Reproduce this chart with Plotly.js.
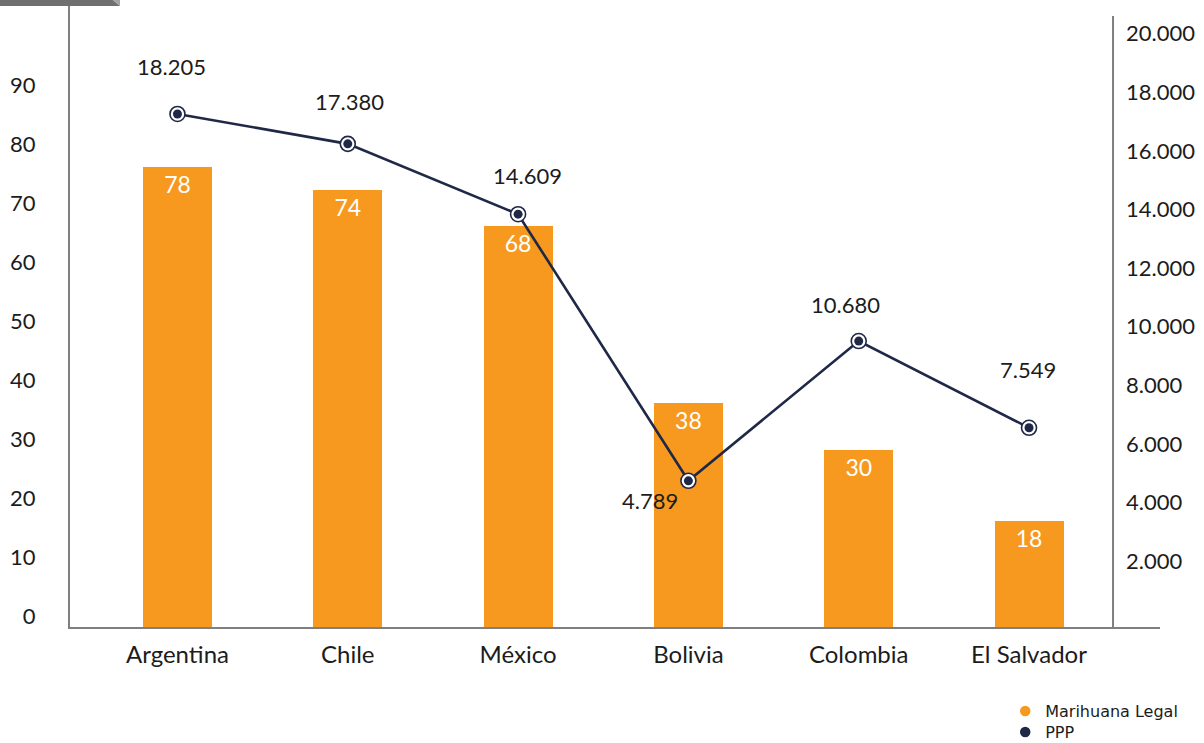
<!DOCTYPE html>
<html>
<head>
<meta charset="utf-8">
<script src="https://cdn.plot.ly/plotly-3.0.1.min.js"></script>
<style>
  html, body { margin: 0; padding: 0; background: #ffffff; }
  #chart { width: 1204px; height: 743px; }
</style>
</head>
<body>
<div id="chart"></div>
<script>
// ---- data ----
const countries = ['Argentina', 'Chile', 'México', 'Bolivia', 'Colombia', 'El Salvador'];
const marihuanaLegal = [78, 74, 68, 38, 30, 18];
// PPP as plotted (marker heights read against the right axis)
const ppp = [17260, 16240, 13840, 4740, 9510, 6550];
// PPP data labels as printed in the reference
const pppLabels = ['18.205', '17.380', '14.609', '4.789', '10.680', '7.549'];
const leftTicks = [0, 10, 20, 30, 40, 50, 60, 70, 80, 90];
const rightTicks = [2000, 4000, 6000, 8000, 10000, 12000, 14000, 16000, 18000, 20000];

// ---- styling ----
const FONT = 'Lato, "Open Sans", "DejaVu Sans", sans-serif';
const LEGEND_FONT = '"DejaVu Sans", Lato, sans-serif';
const ORANGE = '#F7991F';
const NAVY = '#1F2847';
const AXIS = '#7f7f7f';
const TEXT = '#1c1c1c';
// label placement (pixel offsets from each marker)
const labelShift = [[-6, 47], [2, 42], [9, 39], [-38, -20], [-13, 37], [-1, 58]];

const barTrace = {
  type: 'bar',
  x: countries,
  y: marihuanaLegal,
  width: 0.405,
  marker: { color: ORANGE },
  text: marihuanaLegal.map(String),
  textposition: 'inside',
  insidetextanchor: 'end',
  textangle: 0,
  constraintext: 'none',
  textfont: { family: FONT, size: 23, color: '#ffffff' },
  showlegend: false,
  hoverinfo: 'skip'
};

const lineTrace = {
  type: 'scatter',
  mode: 'lines+markers',
  x: countries,
  y: ppp,
  yaxis: 'y2',
  line: { color: NAVY, width: 2.6 },
  marker: { color: '#ffffff', size: 15, line: { color: NAVY, width: 1.6 } },
  showlegend: false,
  cliponaxis: false,
  hoverinfo: 'skip'
};

const dotTrace = {
  type: 'scatter',
  mode: 'markers',
  x: countries,
  y: ppp,
  yaxis: 'y2',
  marker: { color: NAVY, size: 9 },
  showlegend: false,
  cliponaxis: false,
  hoverinfo: 'skip'
};

// legend entries (round symbols as in the reference legend)
const legendBar = {
  type: 'scatter', mode: 'markers', x: [null], y: [null],
  name: 'Marihuana Legal',
  legend: 'legend',
  marker: { color: ORANGE, size: 12, line: { color: '#ffffff', width: 1.5 } }
};
const legendLine = {
  type: 'scatter', mode: 'markers', x: [null], y: [null], yaxis: 'y2',
  name: 'PPP',
  legend: 'legend2',
  marker: { color: NAVY, size: 12, line: { color: '#ffffff', width: 1.5 } }
};

const annotations = countries.map((c, i) => ({
  x: c,
  y: ppp[i],
  xref: 'x',
  yref: 'y2',
  text: pppLabels[i],
  showarrow: false,
  xshift: labelShift[i][0],
  yshift: labelShift[i][1],
  font: { family: FONT, size: 22, color: TEXT }
}));

const legendStyle = (y) => ({
  x: 0.858,
  y: y,
  xanchor: 'left',
  yanchor: 'middle',
  orientation: 'v',
  font: { family: LEGEND_FONT, size: 16, color: TEXT },
  bgcolor: 'rgba(0,0,0,0)',
  borderwidth: 0
});

const layout = {
  width: 1204,
  height: 743,
  margin: { l: 70, r: 44, t: 0, b: 116, autoexpand: false },
  paper_bgcolor: '#ffffff',
  plot_bgcolor: '#ffffff',
  separators: ',.',
  font: { family: FONT, size: 22, color: TEXT },
  bargap: 0,
  xaxis: {
    type: 'category',
    range: [-0.631, 5.769],
    showline: true,
    linecolor: AXIS,
    linewidth: 2,
    ticks: '',
    showgrid: false,
    zeroline: false,
    automargin: false,
    ticklabelstandoff: 5,
    tickfont: { family: FONT, size: 24, color: TEXT }
  },
  yaxis: {
    range: [0, 106.27],
    tickmode: 'array',
    tickvals: leftTicks,
    showline: true,
    linecolor: AXIS,
    linewidth: 2,
    ticks: '',
    showgrid: false,
    zeroline: false,
    automargin: false,
    ticklabelshift: -11,
    ticklabelstandoff: 28,
    tickfont: { family: FONT, size: 22, color: TEXT }
  },
  yaxis2: {
    overlaying: 'y',
    side: 'right',
    anchor: 'free',
    position: 0.9569,
    range: [-249, 21150],
    tickmode: 'array',
    tickvals: rightTicks,
    tickformat: ',d',
    showline: false,
    ticks: '',
    showgrid: false,
    zeroline: false,
    automargin: false,
    ticklabelstandoff: 12,
    tickfont: { family: FONT, size: 22, color: TEXT }
  },
  legend: legendStyle(-0.1340),
  legend2: legendStyle(-0.1675),
  annotations: annotations,
  shapes: [
    { type: 'line', xref: 'paper', yref: 'paper', x0: 0.9569, x1: 0.9569, y0: 0, y1: 0.9745,
      line: { color: AXIS, width: 2 }, layer: 'above' },
    { type: 'path', xref: 'paper', yref: 'paper',
      path: 'M-0.0643,1 L0.0394,1 L0.0459,0.9904 L-0.0643,0.9904 Z',
      fillcolor: '#6f6f6f', line: { width: 0 }, layer: 'above' },
    { type: 'path', xref: 'paper', yref: 'paper',
      path: 'M0.0394,1 L0.0459,1 L0.0459,0.9904 Z',
      fillcolor: '#a3a3a3', line: { width: 0 }, layer: 'above' }
  ]
};

Plotly.newPlot('chart', [barTrace, lineTrace, dotTrace, legendBar, legendLine], layout,
  { staticPlot: true, displayModeBar: false });
</script>
</body>
</html>
